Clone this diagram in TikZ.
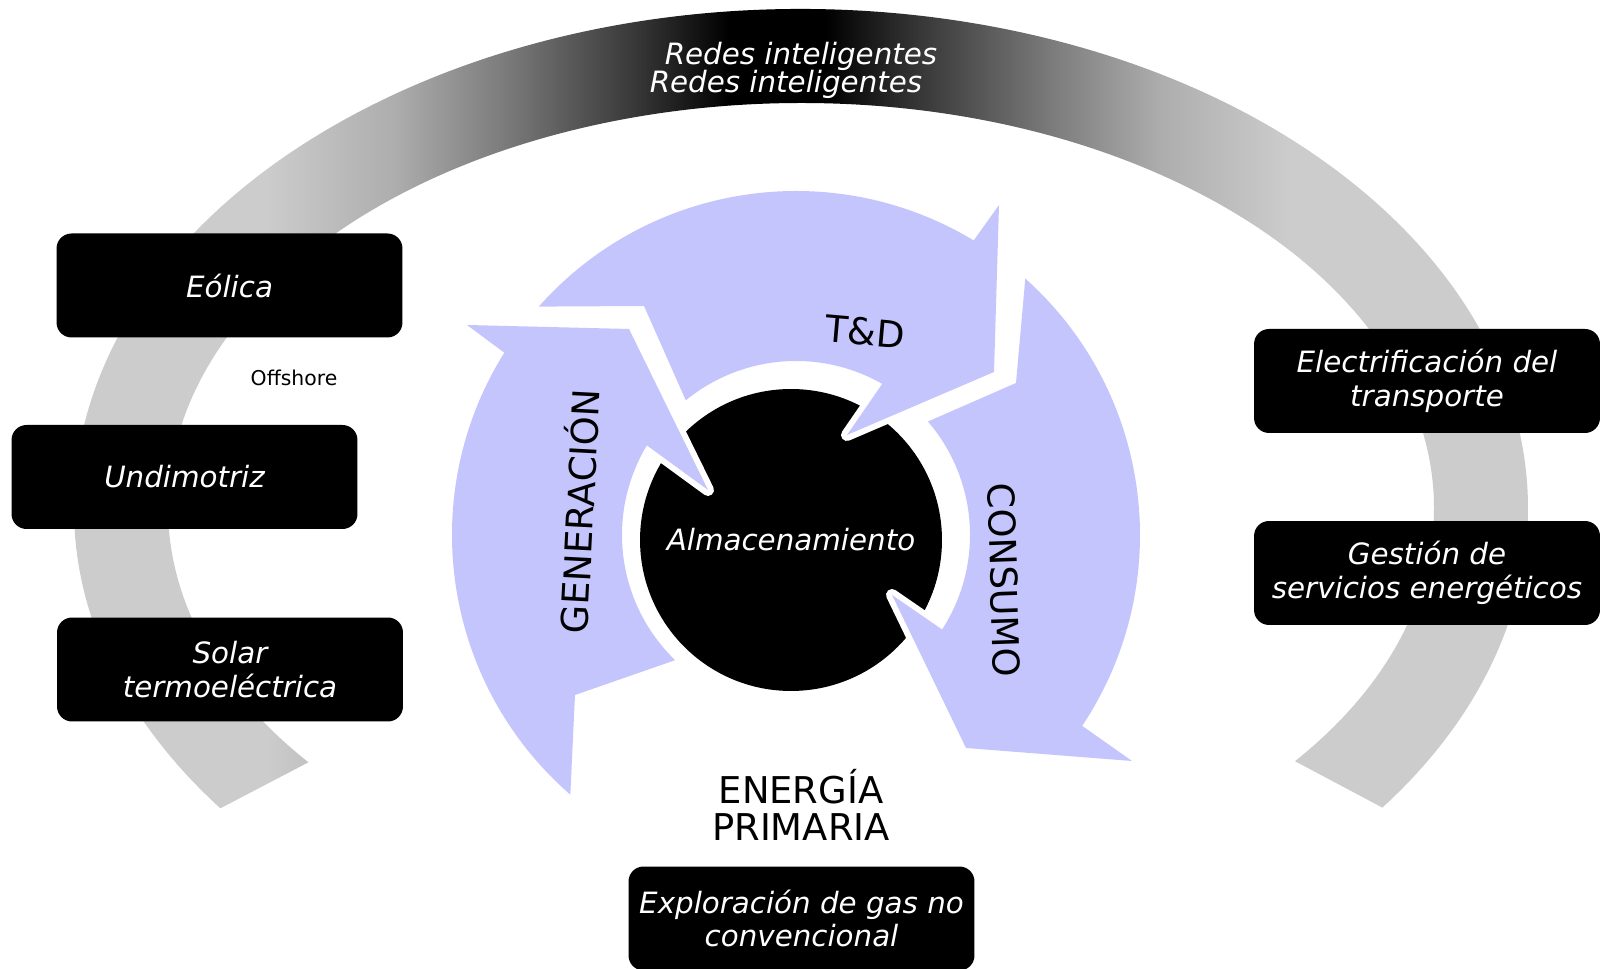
\documentclass[tikz,border=0pt]{standalone}
\usepackage{fontspec}
\setmainfont{DejaVu Sans}[ItalicFont={DejaVu Sans Oblique}]
\usepackage{tikz}
\usetikzlibrary{calc}
\definecolor{cicloLila}{RGB}{197,197,253}
\pgfdeclarehorizontalshading{redesGris}{100bp}{color(0bp)=(black!20); color(34bp)=(black!20); color(38bp)=(black!32); color(41.5bp)=(black!52); color(45.5bp)=(black!78); color(48.5bp)=(black); color(51.5bp)=(black); color(54.5bp)=(black!78); color(58.5bp)=(black!52); color(62bp)=(black!32); color(66bp)=(black!20); color(100bp)=(black!20)}

\begin{document}
\begin{tikzpicture}[x=0.02cm, y=0.02cm, style={line cap=round},
  caja/.style={fill=black, rounded corners=0.3cm, minimum width=6.92cm, minimum height=2.08cm,
    text=white, align=center, font=\fontsize{16.7}{19.3}\selectfont\itshape},
  flecha/.style={fill=cicloLila, preaction={draw=white, line width=6.8pt, line join=round}},
  etapa/.style={font=\fontsize{21}{21}\selectfont}]

  \path[use as bounding box, fill=white] (0,0) rectangle (1601,969);

  % arco de redes inteligentes
  \coordinate (g) at (801,461);
  \shade[shading=redesGris] ($(g)+(217:727 and 499)$) arc[start angle=217, end angle=-36.9, x radius=727, y radius=499]
    -- ($(g)+(-38.7:633 and 405)$) arc[start angle=-38.7, end angle=218.9, x radius=633, y radius=405] -- cycle;
  \node[anchor=base, text=white, font=\fontsize{16.7}{19.3}\selectfont\itshape] (redes1) at (801,904) {Redes inteligentes};
  \node[anchor=base, text=white, font=\fontsize{16.7}{19.3}\selectfont\itshape] (redes2) at (786,876) {Redes inteligentes};

  \node[caja] (eolica) at (229.5,683.5) {E\'olica};
  \node[font=\fontsize{11.6}{14}\selectfont] (offshore) at (294,591) {Offshore};
  \node[caja] (undimotriz) at (184.5,492) {Undimotriz};
  \node[caja] (solar) at (230,299.5) {Solar\\termoel\'ectrica};
  \node[caja] (electrif) at (1427,588) {Electrificaci\'on del\\transporte};
  \node[caja] (gestion) at (1427,396) {Gesti\'on de\\servicios energ\'eticos};
  \node[caja] (exploracion) at (801.5,50.5) {Exploraci\'on de gas no\\convencional};

  \node[circle, fill=black, minimum size=6.04cm, inner sep=0pt, text=white,
    font=\fontsize{16.7}{19.3}\selectfont\itshape] (alm) at (791,429) {Almacenamiento};

  % flechas del ciclo
  \coordinate (cyc) at (796,434);
  \path[flecha] ($(cyc)+(229:344)$) arc[start angle=229, end angle=148, radius=344]
    -- (467,644) -- (629,640) -- (708,479)
    -- ($(cyc)+(149:174)$) arc[start angle=149, end angle=226, radius=174] -- (575,274) -- cycle;
  \path[flecha] ($(cyc)+(138.4:344)$) arc[start angle=138.4, end angle=58.9, radius=344]
    -- (999,764) -- (994,597) -- (847,534)
    -- ($(cyc)+(60.3:174)$) arc[start angle=60.3, end angle=129.3, radius=174] -- (644,663) -- cycle;
  \path[flecha] ($(cyc)+(48.2:344)$) arc[start angle=48.2, end angle=-33.7, radius=344]
    -- (1132,208) -- (966,221) -- (892,374)
    -- ($(cyc)+(-32.9:174)$) arc[start angle=-32.9, end angle=40.7, radius=174] -- (1016,586) -- cycle;

  \node[etapa, rotate=87] (generacion) at (577,458) {GENERACI\'ON};
  \node[etapa, rotate=-5] (td) at (865,637) {T\&D};
  \node[etapa, rotate=-88] (consumo) at (1004,389) {CONSUMO};
  \node[etapa, align=center] (primaria) at (801,164.5) {ENERG\'IA\\PRIMARIA};

\end{tikzpicture}
\end{document}
